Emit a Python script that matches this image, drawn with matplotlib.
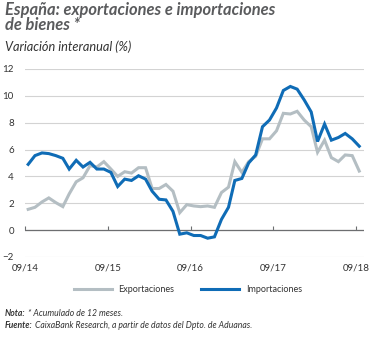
import matplotlib
matplotlib.use('Agg')
import matplotlib.pyplot as plt
import pandas as pd

# monthly data, 09/2014 .. 09/2018 (12-month cumulative, % yoy)
exportaciones = [1.55, 1.7, 2.1, 2.4, 2.05, 1.75, 2.7, 3.6, 3.9, 4.8, 4.7, 5.1,
                 4.55, 4.0, 4.35, 4.25, 4.65, 4.65, 3.1, 3.1, 3.4, 2.9, 1.3, 1.9,
                 1.8, 1.75, 1.8, 1.7, 2.8, 3.2, 5.1, 4.3, 5.1, 5.5, 6.8, 6.8,
                 7.4, 8.7, 8.65, 8.85, 8.2, 7.7, 5.8, 6.7, 5.4, 5.1, 5.6, 5.55,
                 4.4]
importaciones = [4.9, 5.55, 5.75, 5.7, 5.55, 5.35, 4.55, 5.2, 4.7, 5.05, 4.55, 4.55,
                 4.3, 3.25, 3.8, 3.7, 4.05, 3.8, 2.9, 2.3, 2.25, 1.4, -0.3, -0.2,
                 -0.4, -0.4, -0.6, -0.5, 0.8, 1.7, 3.7, 3.85, 5.0, 5.6, 7.7, 8.2,
                 9.1, 10.4, 10.7, 10.5, 9.7, 8.8, 6.6, 7.9, 6.7, 6.9, 7.2, 6.8,
                 6.25]
fechas = pd.date_range('2014-09-01', periods=len(importaciones), freq='MS') + pd.Timedelta(days=14)
tick_fechas = pd.to_datetime(['2014-09-01', '2015-09-01', '2016-09-01', '2017-09-01', '2018-09-01'])
tick_labels = ['09/14', '09/15', '09/16', '09/17', '09/18']

c_exp = '#b4bec3'
c_imp = '#0f6cb6'
c_txt = '#333333'

plt.rcParams['font.family'] = ['Lato', 'DejaVu Sans']

fig = plt.figure(figsize=(3.76, 3.38), dpi=100)
fig.patch.set_facecolor('white')
ax = fig.add_axes([25/376, 1-257/338, (364-25)/376, (257-69)/338])

ax.plot(fechas, exportaciones, color=c_exp, lw=2.2, solid_joinstyle='miter', label='Exportaciones', zorder=3)
ax.plot(fechas, importaciones, color=c_imp, lw=2.2, solid_joinstyle='miter', label='Importaciones', zorder=4)

ax.set_ylim(-2, 12)
ax.set_yticks(range(-2, 13, 2))
ax.set_xlim(pd.Timestamp('2014-09-01'), pd.Timestamp('2018-10-06'))
ax.set_xticks(tick_fechas)
ax.set_xticklabels(tick_labels)
ax.grid(axis='y', color='#d3d3d3', lw=0.8)
ax.axhline(0, color='#6d6e70', lw=0.9, zorder=2)
for s in ax.spines.values():
    s.set_visible(False)
ax.tick_params(axis='both', length=0, labelsize=7, colors=c_txt)
ax.tick_params(axis='y', pad=8)
ax.tick_params(axis='x', pad=5)
for lab in ax.get_yticklabels():
    lab.set_horizontalalignment('right')

# small ticks sitting on the zero line
sec = ax.secondary_xaxis(2/14)
sec.set_xticks(tick_fechas)
sec.set_xticklabels([])
sec.spines['bottom'].set_visible(False)
sec.tick_params(axis='x', direction='in', length=3, width=0.8, color='#6d6e70')

leg = fig.legend(loc='center', bbox_to_anchor=(0.5, 1-290/338), ncol=2, frameon=False,
                 fontsize=6.5, handlelength=4.2, columnspacing=3.0, handletextpad=0.7)
for t in leg.get_texts():
    t.set_color(c_txt)

fig.text(5/376, 1-2/338, 'España: exportaciones e importaciones\nde bienes *', fontsize=11.9,
         fontweight='bold', style='italic', color='#5a5b5d', va='top', linespacing=0.95)
fig.text(5/376, 1-47/338, 'Variación interanual (%)', fontsize=9.2, style='italic',
         color=c_txt, va='center')

renderer = fig.canvas.get_renderer()
for yy, bold, rest in [(313, 'Nota:', ' * Acumulado de 12 meses.'),
                       (325, 'Fuente:', ' CaixaBank Research, a partir de datos del Dpto. de Aduanas.')]:
    t = fig.text(5/376, 1-yy/338, bold, fontsize=6.2, fontweight='bold', style='italic',
                 color=c_txt, va='center')
    bb = t.get_window_extent(renderer)
    fig.text(bb.x1/fig.bbox.width, 1-yy/338, rest, fontsize=6.2, style='italic',
             color=c_txt, va='center')

fig.savefig('out.png', dpi=100)
